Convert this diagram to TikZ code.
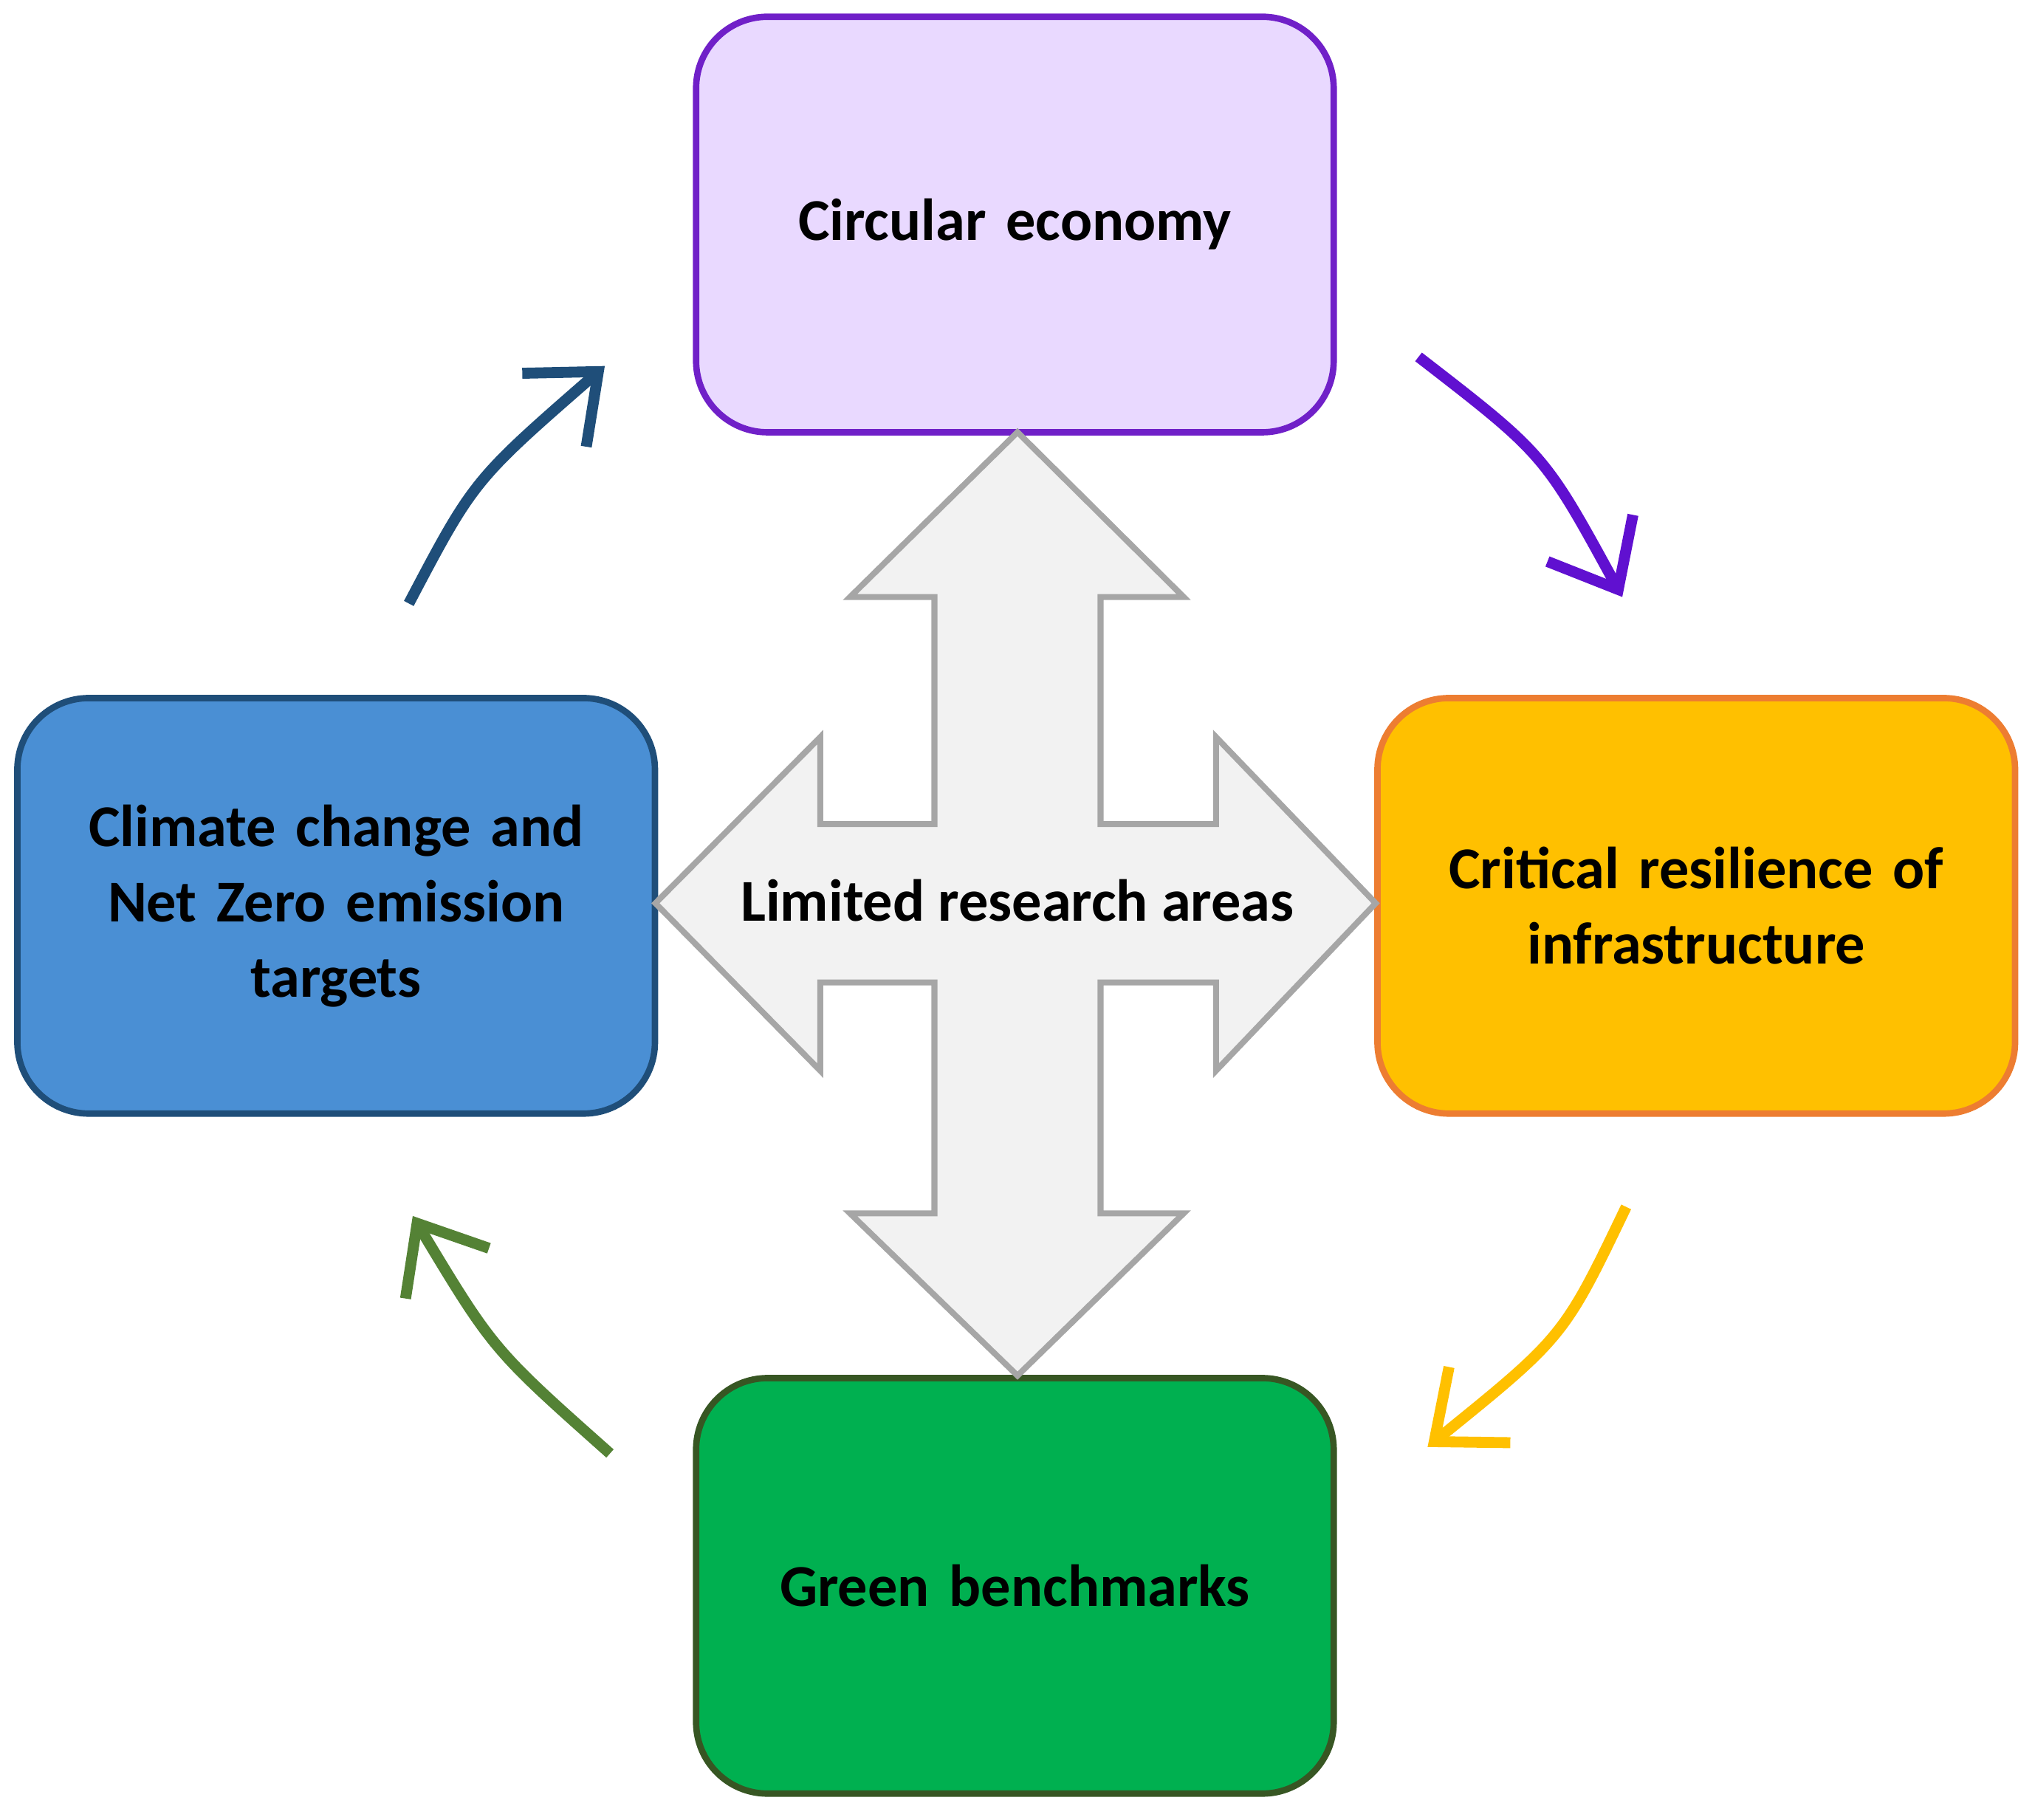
\documentclass[tikz,border=0pt]{standalone}
\usepackage{fontspec}
\setmainfont{Carlito}
\usetikzlibrary{arrows.meta}
\definecolor{ceFill}{HTML}{E9D9FF}
\definecolor{ceLine}{HTML}{7020C8}
\definecolor{ccFill}{HTML}{4A8FD4}
\definecolor{ccLine}{HTML}{1F4E79}
\definecolor{crFill}{HTML}{FFC000}
\definecolor{crLine}{HTML}{ED7D31}
\definecolor{gbFill}{HTML}{00B050}
\definecolor{gbLine}{HTML}{375623}
\definecolor{blueArr}{HTML}{1F4E79}
\definecolor{purpleArr}{HTML}{6010D0}
\definecolor{yellowArr}{HTML}{FFC000}
\definecolor{greenArr}{HTML}{548235}
\tikzset{
  area/.style={rounded corners=0.55cm, line width=1.4pt, minimum width=4.91cm,
    minimum height=3.2cm, align=center, text width=4.3cm,
    font=\fontsize{13}{16.5}\selectfont\bfseries},
  flow/.style={line width=2.4pt, -{Straight Barb[length=0.45cm,width=0.75cm,line width=2.4pt]}}
}
\begin{document}
\begin{tikzpicture}[x=0.01cm,y=-0.01cm]
        \useasboundingbox (0,0) rectangle (1568,1402);

        % the four areas
        \node[area, fill=ceFill, draw=ceLine] (ce) at (782,173) {Circular economy};
        \node[area, fill=ccFill, draw=ccLine] (cc) at (259,698) {Climate change and\\Net Zero emission\\targets};
        \node[area, fill=crFill, draw=crLine] (cr) at (1307,698) {Critical resilience of\\infrastructure};
        \node[area, fill=gbFill, draw=gbLine] (gb) at (782,1222) {Green benchmarks};

        % central cross
        \draw[line width=1.3pt, draw=black!35, fill=black!5]
        (784,333) -- (912,460) -- (848,460) -- (848,635) -- (937,635) -- (937,568)
        -- (1060,696) -- (937,825) -- (937,757) -- (848,757) -- (848,935) -- (912,935)
        -- (784,1060) -- (655,935) -- (720,935) -- (720,757) -- (632,757) -- (632,825)
        -- (505,696) -- (632,568) -- (632,635) -- (720,635) -- (720,460) -- (655,460) -- cycle;
        \node[font=\fontsize{13}{16}\selectfont\bfseries] (lra) at (784,694) {Limited research areas};

        % cycle arrows
        \coordinate (b1) at (315,465);
        \coordinate (b2) at (466,282);
        \draw[flow, blueArr] (b1) .. controls (365,370) .. (b2);
        \coordinate (p1) at (1093,275);
        \coordinate (p2) at (1250,460);
        \draw[flow, purpleArr] (p1) .. controls (1190,350) .. (p2);
        \coordinate (y1) at (1253,930);
        \coordinate (y2) at (1100,1115);
        \draw[flow, yellowArr] (y1) .. controls (1205,1030) .. (y2);
        \coordinate (g1) at (470,1120);
        \coordinate (g2) at (318,937);
        \draw[flow, greenArr] (g1) .. controls (380,1040) .. (g2);

\end{tikzpicture}
\end{document}
